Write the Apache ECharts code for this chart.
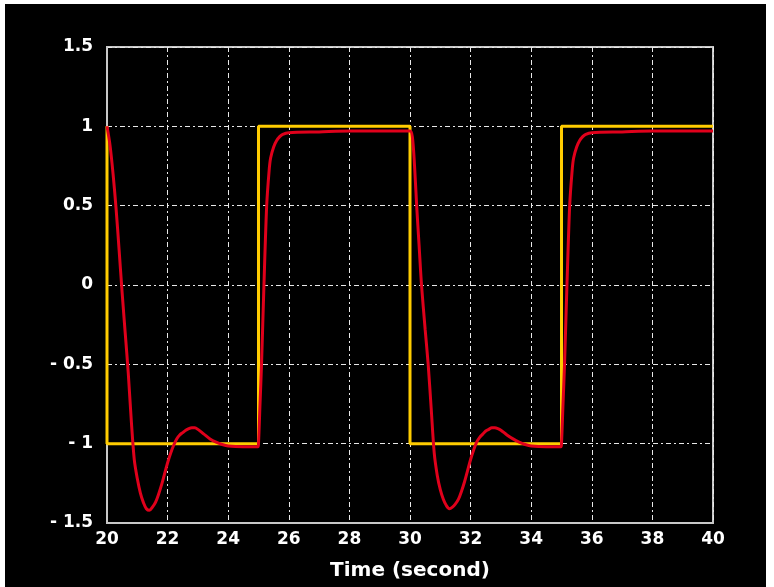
<!DOCTYPE html>
<html>
<head>
<meta charset="utf-8">
<script src="https://cdn.jsdelivr.net/npm/echarts@6/dist/echarts.min.js"></script>
<style>
html,body{margin:0;padding:0;background:#fff;width:774px;height:587px;overflow:hidden;}
#c{position:absolute;left:5px;top:4px;width:761px;height:583px;background:#000;}
</style>
</head>
<body>
<div id="c"></div>
<script>
// Reference (square wave) as [time, value]
var refTimes  = [20, 20, 25, 25, 30, 30, 35, 35, 40];
var refValues = [1, -1, -1, 1, 1, -1, -1, 1, 1];

// Response (red) as [time, value]
var respTimes = [
  20.0, 20.1, 20.2, 20.3, 20.4, 20.5, 20.6, 20.7, 20.8, 20.9,
  21.0, 21.1, 21.2, 21.3, 21.4, 21.5, 21.6, 21.7, 21.8, 21.9,
  22.0, 22.1, 22.2, 22.3, 22.4, 22.5, 22.6, 22.7, 22.8, 22.9,
  23.0, 23.2, 23.4, 23.6, 23.8, 24.0, 24.5, 24.98,
  25.0, 25.05, 25.1, 25.18, 25.27, 25.35, 25.4, 25.5, 25.6, 25.7, 25.8, 26.0, 27.0, 28.0, 29.0,
  30.0, 30.08, 30.15, 30.22, 30.3, 30.38, 30.5, 30.6, 30.7, 30.8, 30.9,
  31.0, 31.1, 31.2, 31.3, 31.4, 31.5, 31.6, 31.7, 31.8, 31.9,
  32.0, 32.1, 32.2, 32.3, 32.4, 32.5, 32.6, 32.7, 32.8, 32.9,
  33.0, 33.2, 33.4, 33.6, 33.8, 34.0, 34.5, 34.98,
  35.0, 35.05, 35.1, 35.18, 35.27, 35.35, 35.4, 35.5, 35.6, 35.7, 35.8, 36.0, 37.0, 38.0, 40.0
];
var respValues = [
  1.0, 0.88, 0.70, 0.48, 0.22, -0.05, -0.30, -0.55, -0.85, -1.10,
  -1.22, -1.31, -1.37, -1.41, -1.42, -1.40, -1.37, -1.32, -1.26, -1.19,
  -1.12, -1.06, -1.01, -0.97, -0.945, -0.93, -0.915, -0.905, -0.90, -0.90,
  -0.91, -0.94, -0.97, -0.99, -1.005, -1.015, -1.02, -1.02,
  -1.0, -0.75, -0.5, 0.0, 0.5, 0.72, 0.80, 0.87, 0.91, 0.935, 0.95, 0.96, 0.965, 0.97, 0.97,
  0.97, 0.93, 0.75, 0.5, 0.25, 0.0, -0.28, -0.5, -0.78, -1.06, -1.2,
  -1.29, -1.35, -1.39, -1.41, -1.40, -1.38, -1.35, -1.30, -1.24, -1.17,
  -1.10, -1.04, -0.99, -0.96, -0.94, -0.92, -0.91, -0.90, -0.90, -0.905,
  -0.915, -0.945, -0.97, -0.99, -1.005, -1.015, -1.02, -1.02,
  -1.0, -0.75, -0.5, 0.0, 0.5, 0.72, 0.80, 0.87, 0.91, 0.935, 0.95, 0.96, 0.965, 0.97, 0.97
];

var xMin = 20, xMax = 40, xStep = 2;
var yMin = -1.5, yMax = 1.5, yStep = 0.5;
var xName = 'Time (second)';

function pairs(a, b) { return a.map(function (v, i) { return [v, b[i]]; }); }
function yFmt(v) {
  var r = Math.round(v * 10) / 10;
  if (r === 0) return '0';
  var s = String(Math.abs(r));
  return (r < 0 ? '- ' : '') + s;
}

var chart = echarts.init(document.getElementById('c'), null, {renderer: 'canvas'});
var font = '"DejaVu Sans", sans-serif';
var gridLine = {show: true, lineStyle: {color: '#e8e8e8', width: 1, type: [5, 3, 2, 3]}};
chart.setOption({
  backgroundColor: '#000',
  animation: false,
  grid: {left: 102, top: 43, right: 53, bottom: 64, show: true, borderColor: '#c8c8c8', borderWidth: 2, backgroundColor: 'transparent'},
  xAxis: {
    type: 'value', min: xMin, max: xMax, interval: xStep,
    name: xName, nameLocation: 'middle', nameGap: 38,
    nameTextStyle: {color: '#fff', fontFamily: font, fontWeight: 'bold', fontSize: 20},
    axisLine: {show: true, onZero: false, lineStyle: {color: '#c8c8c8', width: 2}},
    axisTick: {show: false},
    axisLabel: {color: '#fff', fontFamily: font, fontWeight: 'bold', fontSize: 17, margin: 8},
    splitLine: gridLine
  },
  yAxis: {
    type: 'value', min: yMin, max: yMax, interval: yStep,
    axisLine: {show: true, onZero: false, lineStyle: {color: '#c8c8c8', width: 2}},
    axisTick: {show: false},
    axisLabel: {color: '#fff', fontFamily: font, fontWeight: 'bold', fontSize: 17, margin: 14, formatter: yFmt},
    splitLine: gridLine
  },
  series: [
    {type: 'line', data: pairs(refTimes, refValues), showSymbol: false, symbol: 'none',
     lineStyle: {color: '#ffcc00', width: 3}, z: 2},
    {type: 'line', data: pairs(respTimes, respValues), showSymbol: false, symbol: 'none', smooth: 0.3,
     lineStyle: {color: '#e0001b', width: 3}, z: 3}
  ]
});
</script>
</body>
</html>
